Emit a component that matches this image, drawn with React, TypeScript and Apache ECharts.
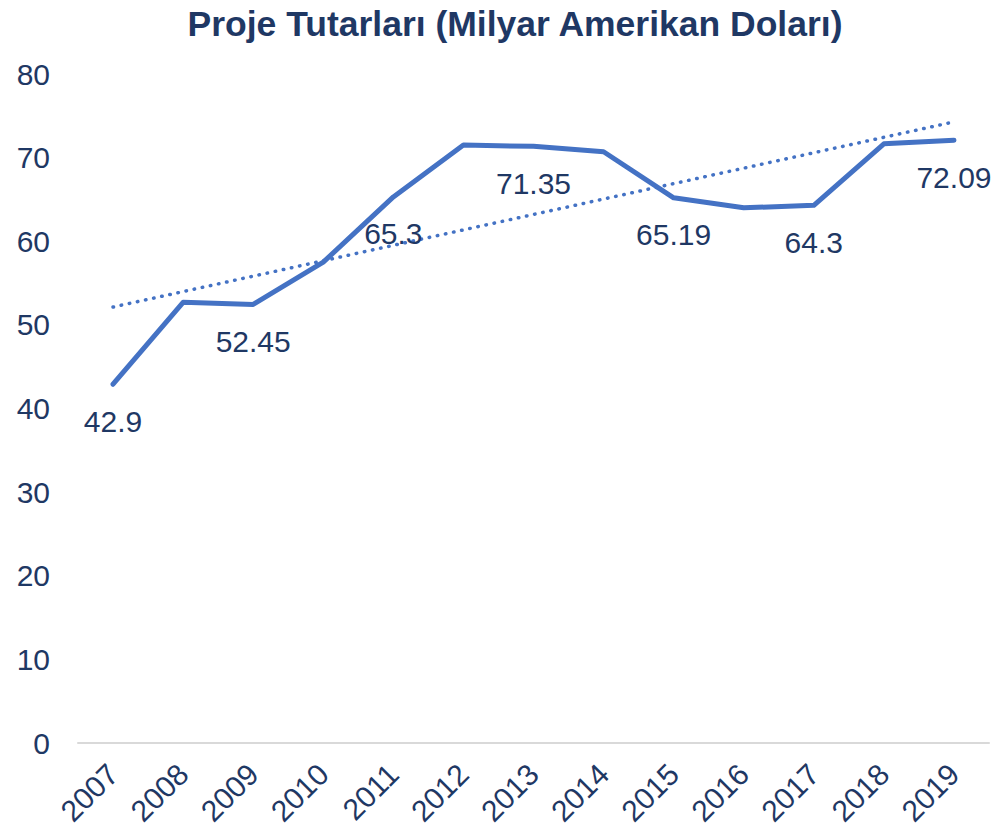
import React, { useEffect, useRef } from "react";
import * as echarts from "echarts";

const title = "Proje Tutarları (Milyar Amerikan Doları)";
const years = ["2007", "2008", "2009", "2010", "2011", "2012", "2013", "2014", "2015", "2016", "2017", "2018", "2019"];
const values = [42.9, 52.7, 52.45, 57.5, 65.3, 71.5, 71.35, 70.7, 65.19, 64.0, 64.3, 71.65, 72.09];
const labeledYears = ["2007", "2009", "2011", "2013", "2015", "2017", "2019"];
const yTicks = { min: 0, max: 80, interval: 10 };

const TEXT = "#1F3864";
const LINE = "#4472C4";
const FONT = "'Liberation Sans', Arial, sans-serif";

function linearTrend(ys: number[]): number[] {
  const n = ys.length;
  const xm = (n - 1) / 2;
  const ym = ys.reduce((a, b) => a + b, 0) / n;
  let sxy = 0;
  let sxx = 0;
  ys.forEach((y, i) => {
    sxy += (i - xm) * (y - ym);
    sxx += (i - xm) * (i - xm);
  });
  const slope = sxy / sxx;
  const b = ym - slope * xm;
  return ys.map((_, i) => +(b + slope * i).toFixed(3));
}

export default function App() {
  const ref = useRef<HTMLDivElement>(null);
  useEffect(() => {
    if (!ref.current) return;
    const chart = echarts.init(ref.current, null, { renderer: "svg" });
    const trend = linearTrend(values);
    chart.setOption({
      animation: false,
      backgroundColor: "#ffffff",
      title: {
        text: title,
        left: 510,
        textAlign: "center",
        top: 1,
        textStyle: { fontFamily: FONT, fontSize: 35.5, fontWeight: "bold", color: TEXT },
      },
      grid: { left: 78, right: 11, top: 74, bottom: 94, containLabel: false },
      xAxis: {
        type: "category",
        data: years,
        boundaryGap: true,
        axisLine: { show: true, lineStyle: { color: "#D9D9D9", width: 2 } },
        axisTick: { show: false },
        axisLabel: {
          rotate: 45,
          margin: 26,
          interval: 0,
          fontFamily: FONT,
          fontSize: 30,
          color: TEXT,
        },
        splitLine: { show: false },
      },
      yAxis: {
        type: "value",
        min: yTicks.min,
        max: yTicks.max,
        interval: yTicks.interval,
        axisLine: { show: false },
        axisTick: { show: false },
        splitLine: { show: false },
        axisLabel: { margin: 28, fontFamily: FONT, fontSize: 30, color: TEXT },
      },
      series: [
        {
          type: "line",
          data: trend,
          showSymbol: false,
          symbol: "none",
          silent: true,
          lineStyle: { color: LINE, width: 3.5, type: [0.5, 7.8], cap: "round" },
          z: 1,
        },
        {
          type: "line",
          data: values.map((v, i) => ({
            value: v,
            label: { show: labeledYears.includes(years[i]) },
          })),
          symbol: "circle",
          symbolSize: 0.1,
          showSymbol: true,
          itemStyle: { color: LINE },
          lineStyle: { color: LINE, width: 5, cap: "round", join: "round" },
          label: {
            position: "bottom",
            distance: 22,
            fontFamily: FONT,
            fontSize: 30,
            color: TEXT,
          },
          z: 2,
        },
      ],
    });
    return () => chart.dispose();
  }, []);
  return (
    <div
      ref={ref}
      style={{ position: "fixed", left: 0, top: 0, width: 1000, height: 837, background: "#fff" }}
    />
  );
}
